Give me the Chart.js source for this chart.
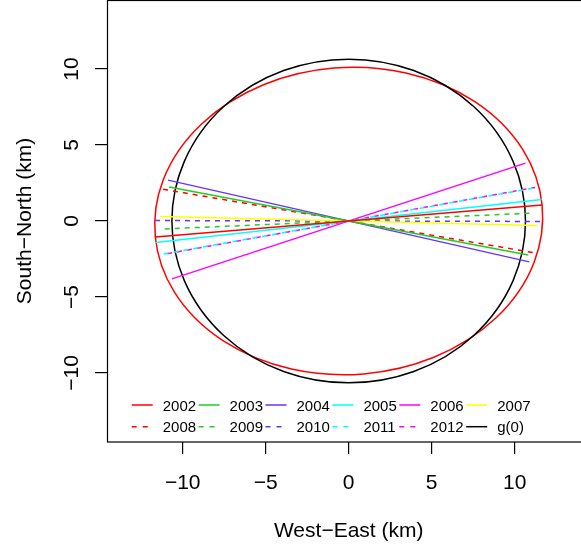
<!DOCTYPE html>
<html>
<head>
<meta charset="utf-8">
<script src="https://cdn.jsdelivr.net/npm/chart.js@4/dist/chart.umd.min.js"></script>
<style>
  html, body { margin: 0; padding: 0; background: #ffffff; overflow: hidden; }
  #wrap { width: 600px; height: 552px; }
</style>
</head>
<body>
<div id="wrap"><canvas id="c" width="600" height="552"></canvas></div>
<script>
// ---- data ----
const years = ['2002','2003','2004','2005','2006','2007','2008','2009','2010','2011','2012'];
// end point of each year's principal axis (line drawn from -end to +end), km
const axisEndX = [11.65, 10.82, 10.88, 11.63, 10.65, 11.35, 11.18, 11.08, 11.67, 11.15, 11.23];
const axisEndY = [1.05, -2.23, -2.69, 1.41, 3.81, -0.30, -2.09, 0.52, -0.03, 2.17, 2.21];
const lineColors = ['#ff0000','#22cc22','#6633ff','#00ffff','#ff00ff','#ffff00',
                    '#ff0000','#22cc22','#6633ff','#00ffff','#ff00ff'];
const lineDashed = [false,false,false,false,false,false,true,true,true,true,true];
// ellipse of 2002 (semi-minor axis, km); semi-major = length of 2002 axis
const ellipseYearIndex = [0];
const ellipseMinor = [10.1];
const ellipseColor = ['#ff0000'];
// g(0) reference circle
const g0Label = 'g(0)';
const g0Radius = [10.65];
const tickValues = [-10, -5, 0, 5, 10];
const tickLabels = ['\u221210', '\u22125', '0', '5', '10'];
const xTitle = 'West\u2212East (km)';
const yTitle = 'South\u2212North (km)';

const FONT = '"Liberation Sans", Arial, Helvetica, sans-serif';
const LW = 1.5;

const datasets = years.map((yr, i) => ({
  label: yr,
  data: [{x: -axisEndX[i], y: -axisEndY[i]}, {x: axisEndX[i], y: axisEndY[i]}],
  showLine: true,
  borderColor: lineColors[i],
  backgroundColor: lineColors[i],
  borderWidth: LW,
  borderDash: lineDashed[i] ? [5, 5] : [],
  borderDashOffset: (yr === '2012') ? 5 : 0,
  pointRadius: 0,
  pointHoverRadius: 0,
  tension: 0
}));

const shapesPlugin = {
  id: 'shapes',
  beforeDatasetsDraw(chart) {
    const ctx = chart.ctx, xs = chart.scales.x, ys = chart.scales.y;
    const cx = xs.getPixelForValue(0), cy = ys.getPixelForValue(0);
    const sx = xs.getPixelForValue(1) - cx, sy = ys.getPixelForValue(1) - cy;
    ellipseYearIndex.forEach((yi, k) => {
      const a = Math.hypot(axisEndX[yi], axisEndY[yi]);
      const th = Math.atan2(axisEndY[yi], axisEndX[yi]);
      ctx.save();
      ctx.translate(cx, cy);
      ctx.scale(sx, sy);
      ctx.rotate(th);
      ctx.beginPath();
      ctx.ellipse(0, 0, a, ellipseMinor[k], 0, 0, Math.PI * 2);
      ctx.restore();
      ctx.save();
      ctx.strokeStyle = ellipseColor[k];
      ctx.lineWidth = LW;
      ctx.stroke();
      ctx.restore();
    });
    ctx.save();
    ctx.translate(cx, cy);
    ctx.scale(sx, sy);
    ctx.beginPath();
    ctx.ellipse(0, 0, g0Radius[0], g0Radius[0], 0, 0, Math.PI * 2);
    ctx.restore();
    ctx.save();
    ctx.strokeStyle = '#000000';
    ctx.lineWidth = LW;
    ctx.stroke();
    ctx.restore();
  },
  afterDraw(chart) {
    const ctx = chart.ctx, xs = chart.scales.x, ys = chart.scales.y;
    const ca = chart.chartArea;
    ctx.save();
    ctx.strokeStyle = '#000000';
    ctx.lineWidth = 1.2;
    ctx.strokeRect(Math.round(ca.left) + 0.5, 0.5, Math.round(ca.right) - Math.round(ca.left), Math.round(ca.bottom) - 0.5);
    ctx.fillStyle = '#000000';
    ctx.font = '21px ' + FONT;
    ctx.textAlign = 'center';
    ctx.textBaseline = 'alphabetic';
    tickValues.forEach((v, i) => {
      ctx.fillText(tickLabels[i], xs.getPixelForValue(v), 489);
    });
    tickValues.forEach((v, i) => {
      ctx.save();
      ctx.translate(77.5, ys.getPixelForValue(v));
      ctx.rotate(-Math.PI / 2);
      ctx.fillText(tickLabels[i], 0, 0);
      ctx.restore();
    });
    ctx.fillText(xTitle, (ca.left + ca.right) / 2, 537);
    ctx.save();
    ctx.translate(31, (ca.top + ca.bottom) / 2);
    ctx.rotate(-Math.PI / 2);
    ctx.fillText(yTitle, 0, 0);
    ctx.restore();
    const items = years.map((yr, i) => ({label: yr, color: lineColors[i], dash: lineDashed[i]}));
    items.push({label: g0Label, color: '#000000', dash: false});
    ctx.font = '15px ' + FONT;
    ctx.textAlign = 'left';
    items.forEach((it, i) => {
      const col = i % 6, row = Math.floor(i / 6);
      const x0 = 131.7 + col * 66.9;
      const yl = row === 0 ? 405 : 426.7;
      ctx.save();
      ctx.strokeStyle = it.color;
      ctx.lineWidth = LW;
      ctx.setLineDash(it.dash ? [5, 6] : []);
      ctx.beginPath();
      ctx.moveTo(x0, yl);
      ctx.lineTo(x0 + 21, yl);
      ctx.stroke();
      ctx.restore();
      ctx.fillStyle = '#000000';
      ctx.fillText(it.label, x0 + 31, yl + 5.6);
    });
    ctx.restore();
  }
};

const tickCfg = {
  display: true,
  drawOnChartArea: false,
  drawTicks: true,
  tickLength: 12,
  color: '#000000',
  lineWidth: 1.2
};

new Chart(document.getElementById('c'), {
  type: 'scatter',
  data: { datasets },
  options: {
    responsive: false,
    animation: false,
    devicePixelRatio: 1,
    layout: { padding: { left: 0, top: 0, right: 9.6, bottom: 0 } },
    plugins: { legend: { display: false }, tooltip: { enabled: false } },
    scales: {
      x: {
        type: 'linear',
        min: -14.56, max: 14.56,
        afterBuildTicks: (s) => { s.ticks = tickValues.map(v => ({value: v})); },
        afterFit: (s) => { s.height = 110; },
        ticks: { display: false },
        grid: tickCfg,
        border: { display: false }
      },
      y: {
        type: 'linear',
        min: -14.54, max: 14.54,
        afterBuildTicks: (s) => { s.ticks = tickValues.map(v => ({value: v})); },
        afterFit: (s) => { s.width = 107; },
        ticks: { display: false },
        grid: tickCfg,
        border: { display: false }
      }
    }
  },
  plugins: [shapesPlugin]
});
</script>
</body>
</html>
